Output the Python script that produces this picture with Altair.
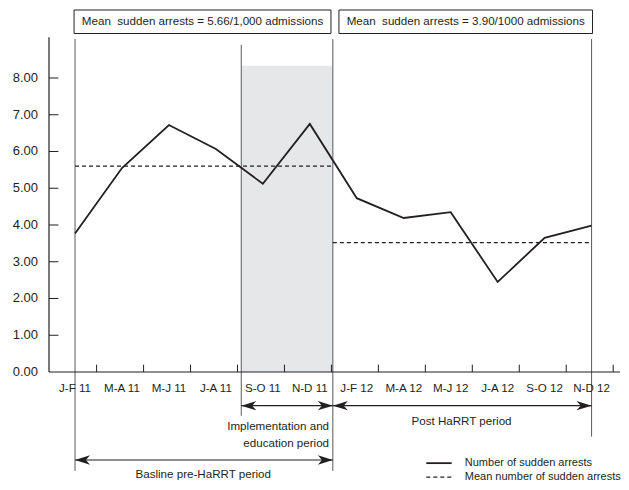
import altair as alt
import pandas as pd

# ---------------- data ----------------
periods = ["J-F 11", "M-A 11", "M-J 11", "J-A 11", "S-O 11", "N-D 11",
           "J-F 12", "M-A 12", "M-J 12", "J-A 12", "S-O 12", "N-D 12"]
arrests = [3.77, 5.55, 6.72, 6.07, 5.12, 6.75, 4.73, 4.19, 4.35, 2.45, 3.65, 3.98]

baseline_mean = 5.60
post_mean = 3.52
box_texts = ["Mean\u00a0 sudden arrests = 5.66/1,000 admissions",
             "Mean\u00a0 sudden arrests = 3.90/1000 admissions"]
y_tick_values = [1, 2, 3, 4, 5, 6, 7, 8]
y_label_values = [0, 1, 2, 3, 4, 5, 6, 7, 8]
x_tick_values = [0.46, 1.46, 2.46, 3.46, 4.46, 5.46, 6.46, 7.46, 8.46, 9.46, 10.46, 11.46]

# period boundaries (in month-pair index units)
base_start, impl_start, impl_end, post_end = 0.0, 3.54, 5.49, 11.0
shade_top = 8.33

FONT = "Liberation Sans"
FS = 11.6
INK = "#231f20"
GRAY = "#58595b"

XMIN, XMAX = -0.554, 11.605
YMIN, YMAX = -2.993, 9.85
xs = alt.Scale(domain=[XMIN, XMAX], nice=False, zero=False)
ys = alt.Scale(domain=[YMIN, YMAX], nice=False, zero=False)

idx = list(range(len(periods)))
line_df = pd.DataFrame({"i": idx, "period": periods, "arrests": arrests})


def X(f):
    return alt.X(f, scale=xs, axis=None)


def Y(f):
    return alt.Y(f, scale=ys, axis=None)


# shaded implementation period
shade = alt.Chart(pd.DataFrame({"x": [impl_start], "x2": [impl_end], "y": [0.0], "y2": [shade_top]})).mark_rect(
    fill="#e6e7e8").encode(x=X("x:Q"), x2="x2:Q", y=Y("y:Q"), y2="y2:Q")

# vertical period separators
vlines_df = pd.DataFrame({
    "x": [base_start, impl_start, impl_end, post_end],
    "top": [9.06, 8.90, 9.06, 9.06],
    "bot": [-2.69, -1.19, -2.69, -1.76],
})
vlines = alt.Chart(vlines_df).mark_rule(color=GRAY, strokeWidth=1).encode(
    x=X("x:Q"), y=Y("top:Q"), y2="bot:Q")

# axis lines
xaxis_line = alt.Chart(pd.DataFrame({"x": [XMIN], "x2": [XMAX], "y": [0.0]})).mark_rule(
    color=INK, strokeWidth=1.2).encode(x=X("x:Q"), x2="x2:Q", y=Y("y:Q"))
yaxis_line = alt.Chart(pd.DataFrame({"x": [XMIN], "y": [0.0], "y2": [9.11]})).mark_rule(
    color=INK, strokeWidth=1.2).encode(x=X("x:Q"), y=Y("y:Q"), y2="y2:Q")

# inward ticks
xticks = alt.Chart(pd.DataFrame({"x": x_tick_values})).transform_calculate(
    y0="0", y1="0.2").mark_rule(color=INK, strokeWidth=1).encode(
    x=X("x:Q"), y=Y("y0:Q"), y2="y1:Q")
yticks = alt.Chart(pd.DataFrame({"y": y_tick_values})).transform_calculate(
    x0=str(XMIN), x1=str(XMIN + 0.2)).mark_rule(color=INK, strokeWidth=1).encode(
    x=X("x0:Q"), x2="x1:Q", y=Y("y:Q"))

# y tick labels
ylabels = alt.Chart(pd.DataFrame({"v": y_label_values})).transform_calculate(
    lx=str(XMIN), lab="format(datum.v, '.2f')").mark_text(
    font=FONT, fontSize=13, color=INK, align="right", baseline="middle", dx=-11).encode(
    x=X("lx:Q"), y=Y("v:Q"), text="lab:N")

# mean lines
mean_df = pd.DataFrame({"x": [base_start, impl_end], "x2": [impl_end, post_end],
                        "y": [baseline_mean, post_mean]})
means = alt.Chart(mean_df).mark_rule(color=INK, strokeWidth=1.2, strokeDash=[4, 3]).encode(
    x=X("x:Q"), x2="x2:Q", y=Y("y:Q"))

# data line
line = alt.Chart(line_df).mark_line(color=INK, strokeWidth=1.8).encode(
    x=X("i:Q"), y=Y("arrests:Q"))

# x labels
xlabels = alt.Chart(line_df).transform_calculate(ly="-0.45").mark_text(
    font=FONT, fontSize=FS, color=INK, align="center", baseline="middle").encode(
    x=X("i:Q"), y=Y("ly:Q"), text="period:N")

# boxes with mean text
box_df = pd.DataFrame({"x": [-0.02, 5.62], "x2": [5.45, 11.02], "y": [9.85, 9.85], "y2": [9.21, 9.21],
                       "cx": [2.715, 8.32], "cy": [9.52, 9.52], "t": box_texts})
boxes = alt.Chart(box_df).mark_rect(fill="white", stroke=INK, strokeWidth=1).encode(
    x=X("x:Q"), x2="x2:Q", y=Y("y:Q"), y2="y2:Q")
box_text = alt.Chart(box_df).mark_text(font=FONT, fontSize=FS, color=INK, align="center",
                                       baseline="middle").encode(
    x=X("cx:Q"), y=Y("cy:Q"), text="t:N")

# double-headed arrows
arrow_df = pd.DataFrame({"x": [impl_start, impl_end, base_start],
                         "x2": [impl_end, post_end, impl_end],
                         "y": [-0.917, -0.917, -2.395]})
shafts = alt.Chart(arrow_df).mark_rule(color=INK, strokeWidth=1.2).encode(
    x=X("x:Q"), x2="x2:Q", y=Y("y:Q"))
RIGHT = "M0,0 L-2,-0.62 L-1.45,0 L-2,0.62 Z"
LEFT = "M0,0 L2,-0.62 L1.45,0 L2,0.62 Z"
heads_l = alt.Chart(arrow_df).mark_point(shape=LEFT, size=225, filled=True, color=INK,
                                         opacity=1, strokeWidth=0).encode(x=X("x:Q"), y=Y("y:Q"))
heads_r = alt.Chart(arrow_df).mark_point(shape=RIGHT, size=225, filled=True, color=INK,
                                         opacity=1, strokeWidth=0).encode(x=X("x2:Q"), y=Y("y:Q"))

# annotation texts
ann_df = pd.DataFrame({
    "x": [5.41, 5.41, 8.23, 2.73],
    "y": [-1.497, -1.96, -1.37, -2.80],
    "t": ["Implementation and", "education period", "Post HaRRT period", "Basline pre-HaRRT period"],
    "a": ["right", "right", "center", "center"],
})
ann_r = alt.Chart(ann_df[ann_df.a == "right"]).mark_text(
    font=FONT, fontSize=FS, color=INK, align="right", baseline="middle").encode(
    x=X("x:Q"), y=Y("y:Q"), text="t:N")
ann_c = alt.Chart(ann_df[ann_df.a == "center"]).mark_text(
    font=FONT, fontSize=FS, color=INK, align="center", baseline="middle").encode(
    x=X("x:Q"), y=Y("y:Q"), text="t:N")

# legend
leg_labels = ["Number of sudden arrests", "Mean number of sudden arrests"]
leg_df = pd.DataFrame({"x": [7.48, 7.48], "x2": [8.02, 8.02], "tx": [8.3, 8.3],
                       "y": [-2.48, -2.86], "t": leg_labels})
leg_solid = alt.Chart(leg_df.iloc[[0]]).mark_rule(color=INK, strokeWidth=1.8).encode(
    x=X("x:Q"), x2="x2:Q", y=Y("y:Q"))
leg_dash = alt.Chart(leg_df.iloc[[1]]).mark_rule(color=INK, strokeWidth=1.2, strokeDash=[4, 3]).encode(
    x=X("x:Q"), x2="x2:Q", y=Y("y:Q"))
leg_text = alt.Chart(leg_df).mark_text(font=FONT, fontSize=11, color=INK, align="left",
                                       baseline="middle").encode(
    x=X("tx:Q"), y=Y("y:Q"), text="t:N")

chart = alt.layer(
    shade, vlines, means, line, xaxis_line, yaxis_line, xticks, yticks, ylabels, xlabels,
    boxes, box_text, shafts, heads_l, heads_r, ann_r, ann_c, leg_solid, leg_dash, leg_text
).properties(
    width=571, height=472,
    autosize=alt.AutoSizeParams(type="none"),
    padding={"left": 41, "top": 2, "right": 1, "bottom": 0},
).configure_view(stroke=None)

chart.save("out.html", embed_options={"renderer": "svg", "actions": False})
